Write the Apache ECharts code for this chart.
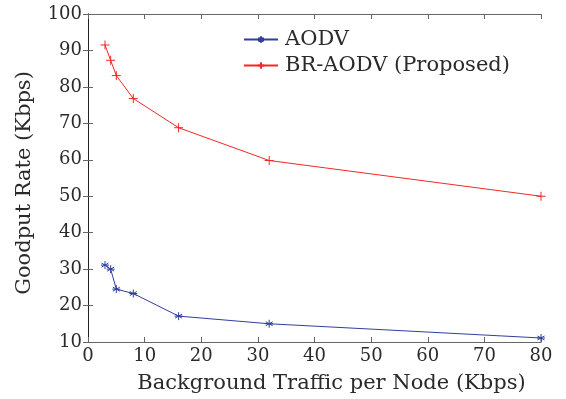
<!DOCTYPE html>
<html><head><meta charset="utf-8">
<script src="https://cdn.jsdelivr.net/npm/echarts@6/dist/echarts.min.js"></script>
<style>html,body{margin:0;padding:0;background:#fff}#c{width:566px;height:399px}</style>
</head><body><div id="c"></div>
<script>
const xValues = [3, 4, 5, 8, 16, 32, 80];
const aodv = [31.1, 30.0, 24.5, 23.3, 17.1, 15.0, 11.1];
const brAodv = [91.5, 87.3, 83.1, 76.8, 68.8, 59.8, 50.0];
const seriesNames = ['AODV', 'BR-AODV (Proposed)'];
const xTitle = 'Background Traffic per Node (Kbps)';
const yTitle = 'Goodput Rate (Kbps)';

const FONT = 'DejaVu Serif';
const star = 'path://M0,-1L0,1M-0.87,-0.5L0.87,0.5M-0.87,0.5L0.87,-0.5M-1,0L1,0';
const plus = 'path://M0,-1L0,1M-1,0L1,0';
const blue = '#2f3ea0';
const red = '#f02828';
const axisCol = '#666';
const textCol = '#2a2a2a';

function pts(ys){ return xValues.map((x,i)=>[x, ys[i]]); }

const chart = echarts.init(document.getElementById('c'));
chart.setOption({
  animation: false,
  grid: {left: 88, right: 25, top: 14, bottom: 56},
  legend: {
    left: 243, top: 29, orient: 'vertical', itemGap: 5, padding: 0,
    itemWidth: 34, itemHeight: 8,
    textStyle: {fontFamily: FONT, fontSize: 21, lineHeight: 20, color: textCol, padding: [0,0,0,2]},
    data: seriesNames
  },
  xAxis: [{
    type: 'value', min: 0, max: 80, interval: 10,
    name: xTitle, nameLocation: 'middle', nameGap: 31,
    nameTextStyle: {fontFamily: FONT, fontSize: 21, color: textCol, padding: [0,0,0,34]},
    axisLine: {show: true, lineStyle: {color: axisCol}},
    axisTick: {show: true, inside: true, length: 5, lineStyle: {color: axisCol}},
    axisLabel: {fontFamily: FONT, fontSize: 18, color: textCol, margin: 5},
    splitLine: {show: false}
  }, {
    type: 'value', min: 0, max: 80, interval: 10, position: 'top',
    axisLine: {show: true, lineStyle: {color: axisCol}},
    axisTick: {show: true, inside: true, length: 5, lineStyle: {color: axisCol}},
    axisLabel: {show: false}, splitLine: {show: false}
  }],
  yAxis: [{
    type: 'value', min: 10, max: 100, interval: 10,
    name: yTitle, nameLocation: 'middle', nameGap: 53,
    nameTextStyle: {fontFamily: FONT, fontSize: 21, color: textCol, padding: [0,10,0,0]},
    axisLine: {show: true, lineStyle: {color: axisCol}},
    axisTick: {show: true, inside: true, length: 5, lineStyle: {color: axisCol}},
    axisLabel: {fontFamily: FONT, fontSize: 18, color: textCol, margin: 6},
    splitLine: {show: false}
  }, {
    type: 'value', min: 10, max: 100, interval: 10, position: 'right',
    axisLine: {show: true, lineStyle: {color: '#222'}},
    axisTick: {show: true, inside: true, length: 5, lineStyle: {color: axisCol}},
    axisLabel: {show: false}, splitLine: {show: false}
  }],
  series: [{
    name: seriesNames[0], type: 'line', data: pts(aodv),
    symbol: star, symbolSize: 8, showAllSymbol: true,
    lineStyle: {color: blue, width: 1},
    itemStyle: {color: 'none', borderColor: blue, borderWidth: 1}
  }, {
    name: seriesNames[1], type: 'line', data: pts(brAodv),
    symbol: plus, symbolSize: 9, showAllSymbol: true,
    lineStyle: {color: red, width: 1},
    itemStyle: {color: 'none', borderColor: red, borderWidth: 1}
  }]
});
</script></body></html>
